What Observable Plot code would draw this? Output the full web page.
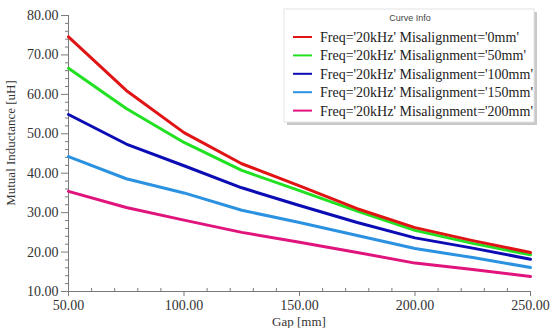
<!DOCTYPE html>
<html>
<head>
<meta charset="utf-8">
<script src="https://cdn.jsdelivr.net/npm/d3@7"></script>
<script src="https://cdn.jsdelivr.net/npm/@observablehq/plot@0.6"></script>
<style>
  html, body { margin: 0; padding: 0; background: #fff; }
  #chart { position: relative; width: 552px; height: 328px; }
  #chart svg text { font-family: 'Liberation Serif', 'Times New Roman', serif; }
</style>
</head>
<body>
<div id="chart"></div>
<script>
const gaps = [50, 75, 100, 125, 150, 175, 200, 225, 250];
const mis0   = [74.6, 61.0, 50.3, 42.4, 36.8, 31.0, 26.2, 22.9, 19.9];
const mis50  = [66.6, 56.4, 47.8, 40.7, 35.6, 30.4, 25.5, 22.2, 19.3];
const mis100 = [54.9, 47.4, 41.9, 36.3, 31.8, 27.5, 23.6, 21.0, 18.2];
const mis150 = [44.2, 38.6, 35.0, 30.6, 27.5, 24.2, 20.9, 18.6, 16.1];
const mis200 = [35.4, 31.3, 28.1, 25.0, 22.5, 19.9, 17.2, 15.6, 13.8];

const seriesNames = [
  "Freq='20kHz' Misalignment='0mm'",
  "Freq='20kHz' Misalignment='50mm'",
  "Freq='20kHz' Misalignment='100mm'",
  "Freq='20kHz' Misalignment='150mm'",
  "Freq='20kHz' Misalignment='200mm'"
];
const seriesValues = [mis0, mis50, mis100, mis150, mis200];
const seriesColors = ["#e01414", "#22e022", "#0c0cb4", "#2a92e0", "#e0147c"];

const xTicks = [50, 100, 150, 200, 250];
const xMinorTicks = [60, 70, 80, 90, 110, 120, 130, 140, 160, 170, 180, 190, 210, 220, 230, 240];
const yTicks = [10, 20, 30, 40, 50, 60, 70, 80];
const yMinorTicks = [12, 14, 16, 18, 22, 24, 26, 28, 32, 34, 36, 38, 42, 44, 46, 48, 52, 54, 56, 58, 62, 64, 66, 68, 72, 74, 76, 78];

const data = [];
seriesValues.forEach((vals, si) => {
  vals.forEach((v, i) => data.push({gap: gaps[i], m: v, series: seriesNames[si]}));
});
const drawOrder = [...seriesNames].reverse();

const serif = "'Liberation Serif', 'Times New Roman', serif";
const axisColor = "#7a7a7a";
const textColor = "#333";

const plot = Plot.plot({
  width: 552,
  height: 328,
  marginLeft: 68,
  marginRight: 22,
  marginTop: 15,
  marginBottom: 37,
  style: {fontFamily: serif, fontSize: "14px", color: textColor, background: "#fff", overflow: "visible"},
  x: {domain: [50, 250]},
  y: {domain: [10, 80]},
  color: {domain: seriesNames, range: seriesColors},
  marks: [
    Plot.axisX({ticks: xTicks, tickFormat: d => d.toFixed(2), tickSize: 5, tickPadding: 4, stroke: axisColor, label: null, fontSize: 14, fontFamily: serif}),
    Plot.axisX({ticks: xMinorTicks, text: null, tickSize: -3, stroke: axisColor, label: null}),
    Plot.axisY({ticks: yTicks, tickFormat: d => d.toFixed(2), tickSize: 7, tickPadding: 3, stroke: axisColor, label: null, fontSize: 14, fontFamily: serif}),
    Plot.axisY({ticks: yMinorTicks, text: null, tickSize: 3, stroke: axisColor, label: null}),
    Plot.ruleX([50], {stroke: axisColor}),
    Plot.ruleY([10], {stroke: axisColor}),
    ...drawOrder.map(name => Plot.line(data.filter(d => d.series === name), {
      x: "gap", y: "m", stroke: "series", strokeWidth: 3, curve: "linear"
    }))
  ]
});

document.getElementById("chart").appendChild(plot);

const svg = d3.select(plot);
svg.selectAll("text").style("font-family", serif);

svg.append("text")
  .attr("x", 299).attr("y", 326)
  .attr("text-anchor", "middle")
  .style("font-family", serif)
  .attr("font-size", 13)
  .attr("fill", textColor)
  .text("Gap [mm]");

svg.append("text")
  .attr("transform", "translate(15,143) rotate(-90)")
  .attr("text-anchor", "middle")
  .style("font-family", serif)
  .attr("font-size", 13)
  .attr("fill", textColor)
  .text("Mutual Inductance [uH]");

// legend
const lg = svg.append("g").attr("class", "legend").attr("text-anchor", "start");
const lx = 284, ly = 9, lw = 250, lh = 113;
lg.append("rect").attr("x", lx + 3).attr("y", ly + 3).attr("width", lw).attr("height", lh)
  .attr("fill", "#c8c8c8");
lg.append("rect").attr("x", lx).attr("y", ly).attr("width", lw).attr("height", lh)
  .attr("fill", "#fff").attr("stroke", "#e4e4e4");
lg.append("text").attr("x", lx + 126).attr("y", ly + 12)
  .attr("text-anchor", "middle")
  .style("font-family", "'Liberation Sans', Arial, sans-serif")
  .attr("font-size", 9).attr("fill", "#444")
  .text("Curve Info");
seriesNames.forEach((name, i) => {
  const y = 37 + i * 18.4;
  lg.append("line").attr("x1", 293).attr("x2", 312).attr("y1", y).attr("y2", y)
    .attr("stroke", seriesColors[i]).attr("stroke-width", 2);
  lg.append("text").attr("x", 320).attr("y", y + 5)
    .attr("text-anchor", "start")
    .style("font-family", serif)
    .attr("font-size", 14).attr("fill", "#222")
    .text(name);
});
</script>
</body>
</html>
